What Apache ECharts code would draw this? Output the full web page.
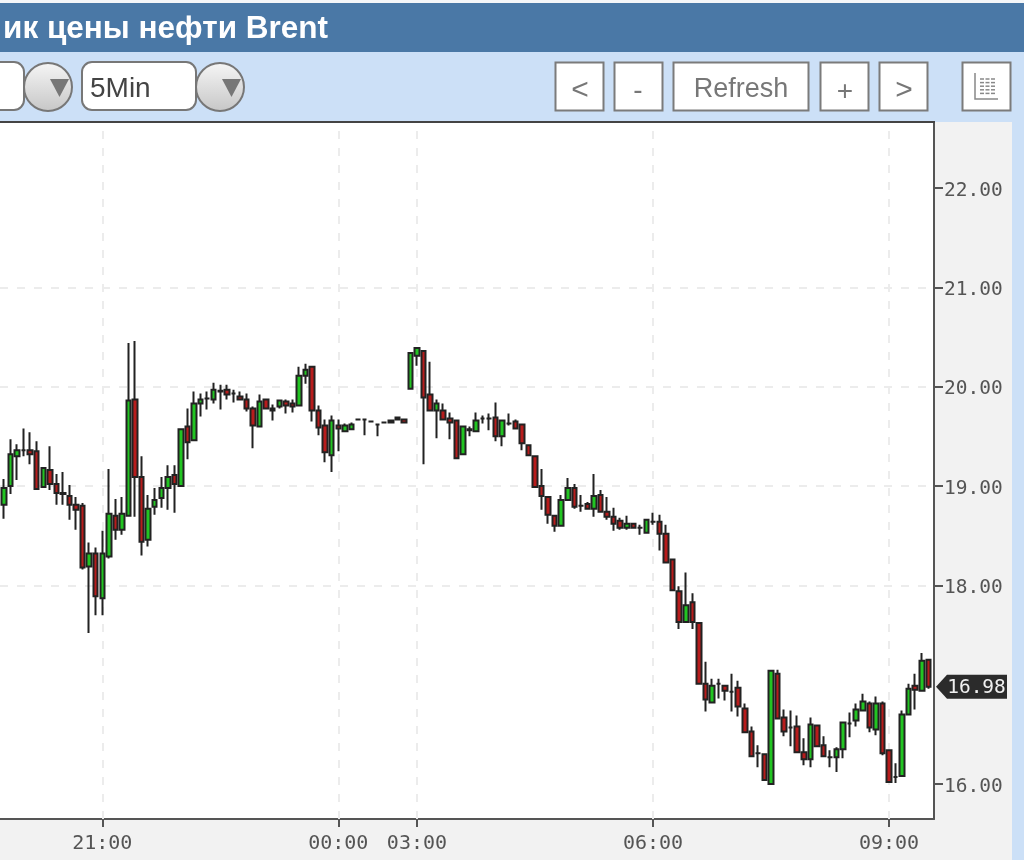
<!DOCTYPE html>
<html>
<head>
<meta charset="utf-8">
<title>Brent</title>
<style>
    html, body {margin: 0; padding: 0; background: #cce0f7;}
    #main {width: 1024px; height: 860px;}
</style>
<script src="https://cdn.jsdelivr.net/npm/echarts@6/dist/echarts.min.js"></script>
</head>
<body>
<div id="main"></div>
<script>
// свечи 5Min, значения
var opens = [18.81, 19.00, 19.30, 19.36, 19.36, 19.35, 18.99, 19.16, 19.02, 18.93, 18.90, 18.81, 18.80, 18.19, 18.32, 17.87, 18.29, 18.70, 18.56, 18.70, 19.87, 19.09, 18.46, 18.79, 18.88, 18.98, 19.11, 19.00, 19.60, 19.46, 19.83, 19.88,
    19.87, 19.95, 19.97, 19.93, 19.90, 19.87, 19.78, 19.60, 19.87, 19.78, 19.80, 19.85, 19.83, 19.81, 20.11, 20.20, 19.76, 19.61, 19.31, 19.61, 19.55, 19.57, 19.67, 19.67, 19.65, 19.62, 19.64, 19.64, 19.67, 19.67,
    19.98, 20.31, 20.36, 19.92, 19.76, 19.76, 19.68, 19.66, 19.32, 19.57, 19.55, 19.68, 19.68, 19.69, 19.50, 19.63, 19.65, 19.62, 19.41, 19.30, 19.00, 18.89, 18.70, 18.60, 18.86, 18.98, 18.80, 18.82, 18.77, 18.91, 18.74, 18.69, 18.65, 18.58, 18.62, 18.58, 18.53, 18.64,
    18.64, 18.52, 18.26, 17.94, 17.63, 17.83, 17.62, 17.01, 16.82, 17.01, 16.99, 16.93, 16.97, 16.76, 16.53, 16.31, 16.30, 16.00, 17.11, 16.67, 16.57, 16.58, 16.32, 16.25, 16.59, 16.39, 16.27, 16.27, 16.35, 16.61, 16.64, 16.74, 16.81, 16.55, 16.81, 16.34, 16.07, 16.08, 16.70, 16.99, 16.94, 17.25];
var closes = [18.98, 19.32, 19.36, 19.36, 19.32, 18.97, 19.18, 19.02, 18.93, 18.92, 18.81, 18.76, 18.18, 18.32, 17.89, 18.32, 18.72, 18.56, 18.72, 19.86, 19.09, 18.44, 18.77, 18.86, 18.98, 19.09, 19.02, 19.57, 19.44, 19.83, 19.87, 19.88,
    19.97, 19.96, 19.92, 19.93, 19.87, 19.78, 19.61, 19.85, 19.78, 19.76, 19.86, 19.81, 19.80, 20.11, 20.17, 19.76, 19.59, 19.34, 19.66, 19.58, 19.61, 19.62, 19.67, 19.67, 19.65, 19.62, 19.64, 19.66, 19.69, 19.64,
    20.34, 20.39, 19.89, 19.76, 19.83, 19.67, 19.64, 19.28, 19.60, 19.56, 19.66, 19.68, 19.68, 19.50, 19.66, 19.63, 19.58, 19.43, 19.31, 18.99, 18.90, 18.71, 18.60, 18.86, 18.98, 18.79, 18.80, 18.77, 18.90, 18.74, 18.69, 18.62, 18.58, 18.62, 18.58, 18.58, 18.66, 18.64,
    18.52, 18.23, 17.95, 17.63, 17.80, 17.63, 17.01, 16.85, 16.99, 17.01, 16.94, 16.93, 16.78, 16.52, 16.28, 16.31, 16.04, 17.14, 16.66, 16.53, 16.57, 16.32, 16.25, 16.60, 16.38, 16.28, 16.27, 16.35, 16.62, 16.61, 16.75, 16.83, 16.57, 16.81, 16.31, 16.02, 16.07, 16.70, 16.96, 16.95, 17.24, 16.98];
var lows = [18.67, 18.92, 19.06, 19.30, 19.22, 18.97, 18.98, 18.96, 18.81, 18.81, 18.66, 18.56, 18.16, 17.52, 17.70, 17.70, 18.27, 18.46, 18.51, 18.69, 18.69, 18.30, 18.39, 18.71, 18.78, 18.76, 18.73, 18.99, 19.27, 19.45, 19.70, 19.77,
    19.83, 19.77, 19.87, 19.84, 19.87, 19.75, 19.38, 19.59, 19.77, 19.66, 19.78, 19.73, 19.74, 19.80, 20.03, 19.65, 19.51, 19.24, 19.14, 19.35, 19.55, 19.56, 19.66, 19.51, 19.64, 19.50, 19.63, 19.63, 19.66, 19.63,
    19.98, 20.21, 19.22, 19.75, 19.48, 19.66, 19.47, 19.27, 19.31, 19.50, 19.55, 19.63, 19.56, 19.45, 19.40, 19.61, 19.57, 19.36, 19.30, 18.99, 18.76, 18.62, 18.54, 18.60, 18.85, 18.77, 18.74, 18.76, 18.69, 18.73, 18.66, 18.55, 18.56, 18.56, 18.57, 18.51, 18.52, 18.61,
    18.35, 18.23, 17.95, 17.56, 17.63, 17.56, 17.01, 16.73, 16.82, 16.86, 16.84, 16.73, 16.68, 16.52, 16.27, 16.17, 16.03, 15.99, 16.66, 16.48, 16.38, 16.31, 16.19, 16.17, 16.38, 16.27, 16.17, 16.12, 16.26, 16.47, 16.58, 16.73, 16.52, 16.49, 16.29, 16.01, 16.01, 16.07, 16.69, 16.75, 16.93, 16.96];
var highs = [19.07, 19.47, 19.42, 19.58, 19.54, 19.45, 19.18, 19.40, 19.12, 19.14, 19.01, 18.89, 18.83, 18.43, 18.38, 18.55, 19.17, 18.87, 18.89, 20.44, 20.46, 19.30, 18.91, 18.98, 19.09, 19.21, 19.21, 19.57, 19.78, 19.95, 19.93, 19.95,
    20.04, 20.02, 20.02, 19.97, 19.95, 19.93, 19.80, 19.92, 19.87, 19.82, 19.87, 19.87, 19.87, 20.20, 20.23, 20.21, 19.81, 19.67, 19.71, 19.67, 19.63, 19.64, 19.68, 19.68, 19.66, 19.63, 19.65, 19.67, 19.70, 19.68,
    20.34, 20.39, 20.36, 20.25, 19.87, 19.83, 19.74, 19.67, 19.60, 19.60, 19.74, 19.71, 19.73, 19.84, 19.67, 19.73, 19.67, 19.63, 19.41, 19.30, 19.17, 18.89, 18.70, 18.91, 19.08, 19.02, 18.91, 18.84, 19.12, 18.96, 18.89, 18.78, 18.68, 18.70, 18.63, 18.61, 18.66, 18.73,
    18.71, 18.61, 18.26, 17.99, 18.13, 17.92, 17.63, 17.23, 17.06, 17.06, 17.00, 17.11, 17.04, 16.81, 16.58, 16.39, 16.30, 17.15, 17.15, 16.75, 16.74, 16.69, 16.46, 16.67, 16.59, 16.48, 16.34, 16.37, 16.62, 16.72, 16.81, 16.91, 16.83, 16.88, 16.83, 16.34, 16.21, 16.74, 17.01, 17.11, 17.32, 17.25];

var timeSlots = [15, 51, 63, 99, 135];
var timeLabels = ['21:00', '00:00', '03:00', '06:00', '09:00'];
var priceTicks = [16, 18, 19, 20, 21, 22];
var lastPrice = 16.98;

var chart = echarts.init(document.getElementById('main'));
var sansFont = '"Liberation Sans", Arial, sans-serif';
var monoFont = '"DejaVu Sans Mono", monospace';

var candles = [];
for (var i = 0; i < opens.length; i++) {
    candles.push([i, opens[i], closes[i], lows[i], highs[i]]);
}

var vLines = timeSlots.map(function (s) {
    return {xAxis: s};
});

function rect(x, y, w, h, fill, z) {
    return {type: 'rect', z: z, silent: true, shape: {x: x, y: y, width: w, height: h}, style: {fill: fill}};
}

function label(text, x, y, size, color, weight, align) {
    return {
        type: 'text', z: 12, silent: true, x: x, y: y,
        style: {text: text, fill: color, font: (weight || 'normal') + ' ' + size + 'px ' + sansFont, align: align || 'center', verticalAlign: 'middle'}
    };
}

function button(x, w) {
    return {
        type: 'rect', z: 10, silent: true,
        shape: {x: x, y: 62.5, width: w, height: 48},
        style: {fill: '#fff', stroke: '#7b7b7b', lineWidth: 2}
    };
}

function dropdown(x, w, cx) {
    var grad = new echarts.graphic.LinearGradient(0, 0, 0, 1, [
        {offset: 0, color: '#f6f6f6'},
        {offset: 1, color: '#c6c6c6'}
    ]);
    return [{
        type: 'rect', z: 10, silent: true,
        shape: {x: x, y: 62, width: w, height: 48, r: 10},
        style: {fill: '#fff', stroke: '#777', lineWidth: 2}
    }, {
        type: 'circle', z: 11, silent: true,
        shape: {cx: cx, cy: 87, r: 24},
        style: {fill: grad, stroke: '#777', lineWidth: 2}
    }, {
        type: 'polygon', z: 12, silent: true,
        shape: {points: [[cx + 2, 79], [cx + 21, 79], [cx + 11.5, 97]]},
        style: {fill: '#777'}
    }];
}

var elements = [
    rect(0, 0, 1024, 3, '#f4f6f8', -1),
    rect(0, 3, 1024, 49, '#4a78a6', -1),
    rect(934, 122, 78, 738, '#f2f2f2', -1),
    rect(0, 819, 934, 41, '#f2f2f2', -1),
    rect(0, 121, 935, 2, '#444', 3),
    label('ик цены нефти Brent', 328, 29, 31.5, '#fff', 'bold', 'right'),
    label('5Min', 90, 89, 28, '#444', 'normal', 'left'),
    button(555.5, 48), button(614.5, 48), button(673.5, 135), button(820.5, 48), button(879.5, 48), button(962.5, 48),
    label('<', 580, 91, 30, '#777'),
    label('-', 638, 91, 28, '#777'),
    label('Refresh', 741, 90, 27, '#777'),
    label('+', 845, 92, 28, '#777'),
    label('>', 904, 91, 30, '#777')
].concat(dropdown(-20, 44, 48), dropdown(82, 114, 220));

// значок таблицы справа
elements.push({
    type: 'polyline', z: 12, silent: true,
    shape: {points: [[975, 73], [975, 99], [998, 99]]},
    style: {stroke: '#888', lineWidth: 1.5, fill: null}
});
for (var row = 0; row < 5; row++) {
    for (var col = 0; col < 3; col++) {
        elements.push({
            type: 'line', z: 12, silent: true,
            shape: {x1: 980 + col * 5.5, y1: 79 + row * 3.6, x2: 984 + col * 5.5, y2: 79 + row * 3.6},
            style: {stroke: '#888', lineWidth: 1.5}
        });
    }
}

var option = {
    animation: false,
    backgroundColor: '#cce0f7',
    grid: {
        show: true, left: 0, right: 90, top: 122, bottom: 41,
        backgroundColor: '#fff', borderWidth: 0
    },
    xAxis: {
        type: 'value',
        min: -0.6,
        max: 141.86,
        axisLine: {onZero: false, lineStyle: {color: '#555', width: 2}},
        axisTick: {customValues: timeSlots, length: 8, lineStyle: {color: '#555', width: 2}},
        axisLabel: {
            customValues: timeSlots,
            margin: 15,
            color: '#555',
            fontFamily: monoFont,
            fontSize: 20,
            formatter: function (v) {
                return timeLabels[timeSlots.indexOf(v)];
            }
        },
        splitLine: {show: false}
    },
    yAxis: {
        type: 'value',
        position: 'right',
        min: 15.648,
        max: 22.664,
        splitNumber: 7,
        axisLine: {show: true, onZero: false, lineStyle: {color: '#555', width: 2}},
        axisTick: {show: true, customValues: priceTicks, length: 9, lineStyle: {color: '#555', width: 2}},
        axisLabel: {
            customValues: priceTicks,
            margin: 10,
            color: '#555',
            fontFamily: monoFont,
            fontSize: 19.5,
            rich: {
                p: {padding: [5, 0, 0, 0], fontFamily: monoFont, fontSize: 19.5, color: '#555'}
            },
            formatter: function (v) {
                return '{p|' + v.toFixed(2) + '}';
            }
        },
        splitLine: {
            show: true, showMinLine: false, showMaxLine: false,
            lineStyle: {color: '#ececec', width: 2, type: [8, 9]}
        }
    },
    graphic: {elements: elements},
    series: [{
        type: 'candlestick',
        name: 'Brent',
        data: candles,
        encode: {x: 0, y: [1, 2, 3, 4]},
        barWidth: 5,
        silent: true,
        itemStyle: {
            color: '#22c522',
            color0: '#b81c1c',
            borderColor: '#222',
            borderColor0: '#222',
            borderWidth: 2
        },
        markLine: {
            z: 1,
            silent: true,
            symbol: 'none',
            label: {show: false},
            lineStyle: {color: '#ececec', width: 2, type: [8, 9]},
            data: vLines
        }
    }]
};
chart.setOption(option);

// плашка с последней ценой
var badgeY = chart.convertToPixel({yAxisIndex: 0}, lastPrice);
chart.setOption({
    graphic: {
        elements: elements.concat([{
            type: 'polygon', z: 12, silent: true,
            shape: {points: [[936, badgeY], [947, badgeY - 12], [1007, badgeY - 12], [1007, badgeY + 12], [947, badgeY + 12]]},
            style: {fill: '#2b2b2b'}
        }, {
            type: 'text', z: 13, silent: true, x: 976.5, y: badgeY + 1,
            style: {text: lastPrice.toFixed(2), fill: '#f0f0f0', font: '19.5px ' + monoFont, align: 'center', verticalAlign: 'middle'}
        }])
    }
});
</script>
</body>
</html>
